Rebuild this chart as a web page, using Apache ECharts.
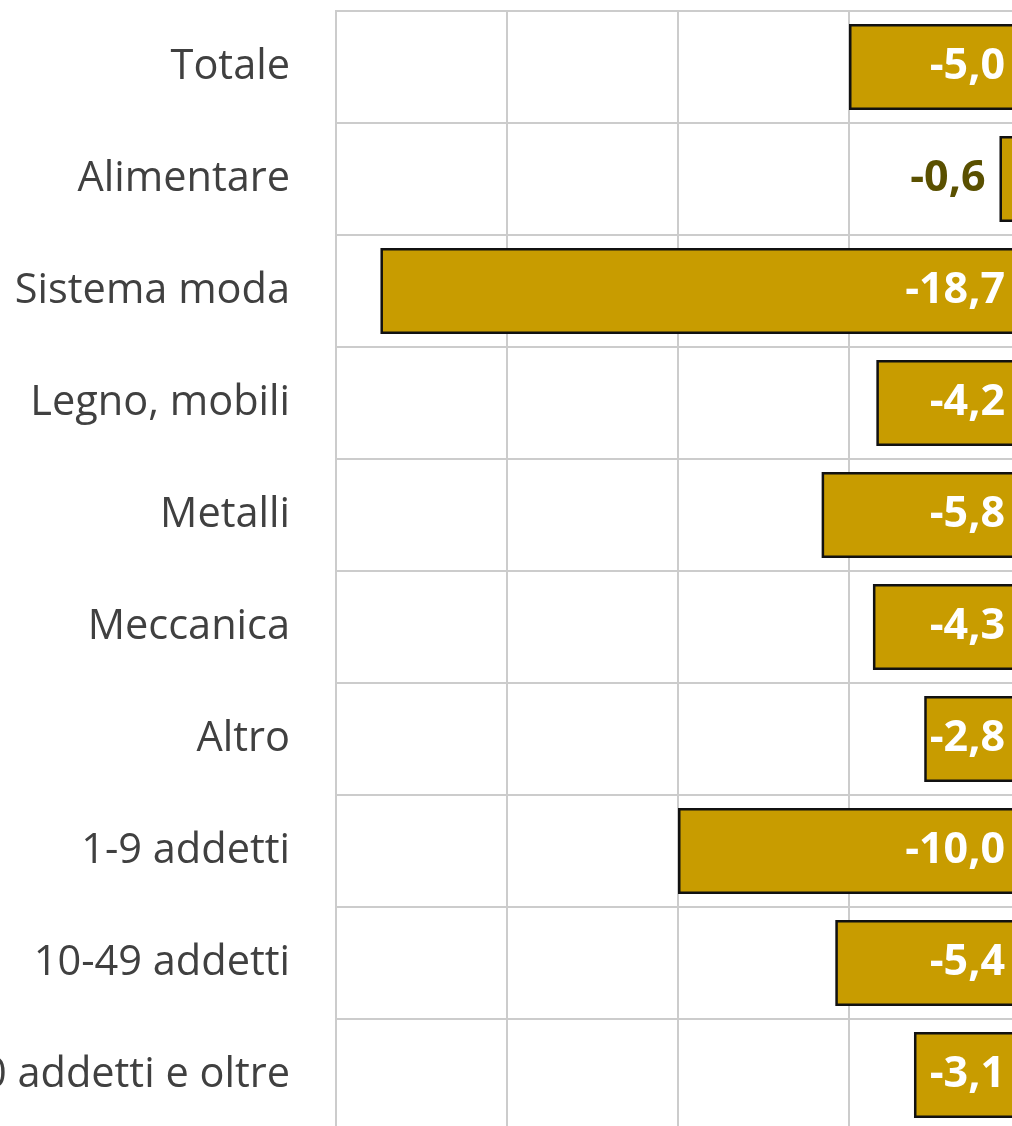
<!DOCTYPE html>
<html>
<head>
<meta charset="utf-8">
<script src="https://cdn.jsdelivr.net/npm/echarts@6/dist/echarts.min.js"></script>
<style>
  html, body { margin: 0; padding: 0; background: #fff; }
  #chart { width: 1012px; height: 1126px; }
</style>
</head>
<body>
<div id="chart"></div>
<script>
// categories, top to bottom
const categories = [
  "Totale",
  "Alimentare",
  "Sistema moda",
  "Legno, mobili",
  "Metalli",
  "Meccanica",
  "Altro",
  "1-9 addetti",
  "10-49 addetti",
  "50 addetti e oltre"
];
// variazione %
const values = [-5.0, -0.6, -18.7, -4.2, -5.8, -4.3, -2.8, -10.0, -5.4, -3.1];

const axisMin = -20;
const axisMax = 0;
const axisStep = 5;

const chart = echarts.init(document.getElementById("chart"));

// short bars get the label outside, in dark olive
const seriesData = values.map(v => {
  if (v > -1.5) {
    return {
      value: v,
      label: { position: "left", distance: 14, color: "#5a5000" }
    };
  }
  return v;
});

chart.setOption({
  animation: false,
  grid: {
    left: 336,
    right: -8,
    top: 11,
    bottom: -5,
    outerBoundsMode: "none",
    containLabel: false,
    show: true,
    borderColor: "#cccccc",
    borderWidth: 2
  },
  xAxis: {
    type: "value",
    min: axisMin,
    max: axisMax,
    interval: axisStep,
    axisLabel: { show: false },
    axisLine: { show: false },
    axisTick: { show: false },
    splitLine: { lineStyle: { color: "#cccccc", width: 2 } }
  },
  yAxis: {
    type: "category",
    data: categories,
    inverse: true,
    axisLine: { show: false },
    axisTick: { show: false },
    axisLabel: {
      margin: 46,
      fontFamily: "Open Sans",
      fontSize: 41.5,
      color: "#404040"
    },
    splitLine: { show: true, lineStyle: { color: "#cccccc", width: 2 } }
  },
  series: [{
    type: "bar",
    data: seriesData,
    barCategoryGap: "23%",
    itemStyle: {
      color: "#c89c00",
      borderColor: "#111111",
      borderWidth: 2.5
    },
    label: {
      show: true,
      position: "insideRight",
      distance: 15,
      fontFamily: "Open Sans",
      fontWeight: "bold",
      fontSize: 43,
      color: "#ffffff",
      formatter: p => p.value.toFixed(1).replace(".", ",")
    }
  }]
});
</script>
</body>
</html>
